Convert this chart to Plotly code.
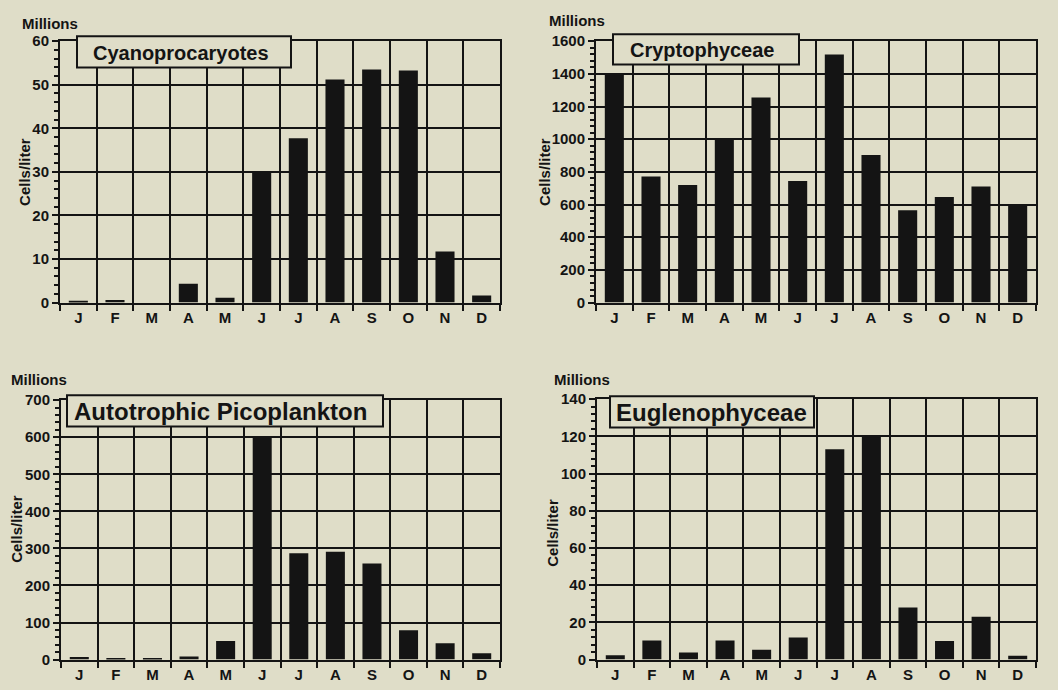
import plotly.graph_objects as go

# Monthly cell counts (millions of cells per liter)
months = ["Jan", "Feb", "Mar", "Apr", "May", "Jun", "Jul", "Aug", "Sep", "Oct", "Nov", "Dec"]
month_letters = ["J", "F", "M", "A", "M", "J", "J", "A", "S", "O", "N", "D"]

cyanoprocaryotes = [0.4, 0.6, 0, 4.3, 1.1, 30, 37.7, 51.2, 53.5, 53.3, 11.7, 1.6]
cryptophyceae = [1400, 772, 720, 995, 1256, 744, 1518, 903, 565, 647, 710, 601]
picoplankton = [7, 2, 4, 8, 50, 601, 287, 291, 259, 79, 44, 17]
euglenophyceae = [2.3, 10.2, 3.8, 10.2, 5.3, 11.9, 113, 120, 28, 10, 23, 2]

titles = ["Cyanoprocaryotes", "Cryptophyceae", "Autotrophic Picoplankton", "Euglenophyceae"]
y_max = [60, 1600, 700, 140]
y_major = [10, 200, 100, 20]
y_minor = [2, 40, 20, 4]

W, H = 1058, 690
BG = "#dfddc8"
INK = "#141414"
FONT = "Liberation Sans, Arial, Helvetica, sans-serif"

# panel rectangles in pixels: (left, right, top, bottom)
panels = [
    (60, 500, 33, 301),
    (596, 1036, 33, 301),
    (61, 500, 401, 667),
    (597, 1036, 400, 667),
]
# title box (left, right, top, bottom), text left, font size
boxes = [
    (77, 291, 28, 60, 91, 20),
    (613, 799, 26, 57, 628, 20),
    (67, 383, 396, 428, 72, 24),
    (610, 814, 397, 429, 614, 24),
]
millions_pos = [(20, 15), (547, 12), (9, 380), (552, 380)]
cells_pos = [(25, 167), (545, 167), (17, 533), (553, 537)]

series = [cyanoprocaryotes, cryptophyceae, picoplankton, euglenophyceae]


def px(x):
    return x / W


def py(y):
    return 1 - y / H


fig = go.Figure()
layout = dict(
    width=W, height=H,
    margin=dict(l=0, r=0, t=0, b=0),
    paper_bgcolor=BG, plot_bgcolor=BG,
    showlegend=False,
    font=dict(family=FONT, color=INK),
    shapes=[], annotations=[],
)

for i, vals in enumerate(series):
    n = "" if i == 0 else str(i + 1)
    fig.add_trace(go.Bar(
        x=months, y=vals, xaxis="x" + n, yaxis="y" + n,
        marker=dict(color=INK, line=dict(width=0)), width=0.52,
    ))
    l, r, t, b = panels[i]
    layout["xaxis" + n] = dict(
        domain=[px(l), px(r)], anchor="y" + n, type="category",
        categoryorder="array", categoryarray=months,
        tickmode="array", tickvals=months, ticktext=month_letters,
        tickson="boundaries", ticks="outside", ticklen=6, tickwidth=2, tickcolor=INK,
        showgrid=True, gridcolor=INK, gridwidth=2,
        showline=True, mirror=True, linecolor=INK, linewidth=2,
        tickfont=dict(family=FONT, size=15, color=INK, weight="bold"),
        range=[-0.5, 11.5], fixedrange=True,
    )
    layout["yaxis" + n] = dict(
        domain=[py(b), py(t)], anchor="x" + n,
        range=[0, y_max[i]], dtick=y_major[i], tick0=0,
        ticks="outside", ticklen=6, tickwidth=2, tickcolor=INK,
        minor=dict(dtick=y_minor[i], tick0=0, ticks="outside", ticklen=4,
                   tickwidth=1.5, tickcolor=INK, showgrid=False),
        showgrid=True, gridcolor=INK, gridwidth=2, zeroline=False,
        showline=True, mirror=True, linecolor=INK, linewidth=2,
        tickfont=dict(family=FONT, size=15, color=INK, weight="bold"),
        fixedrange=True,
    )

    bl, br, bt, bb, tx, fs = boxes[i]
    layout["shapes"].append(dict(
        type="rect", xref="paper", yref="paper", layer="above",
        x0=px(bl), x1=px(br), y0=py(bb), y1=py(bt),
        fillcolor=BG, line=dict(color=INK, width=2),
    ))
    layout["annotations"].append(dict(
        xref="paper", yref="paper", x=px(tx), y=py((bt + bb) / 2 + 1),
        xanchor="left", yanchor="middle", showarrow=False,
        text="<b>" + titles[i] + "</b>",
        font=dict(family=FONT, size=fs, color=INK),
    ))
    mx, my = millions_pos[i]
    layout["annotations"].append(dict(
        xref="paper", yref="paper", x=px(mx), y=py(my),
        xanchor="left", yanchor="middle", showarrow=False,
        text="<b>Millions</b>", font=dict(family=FONT, size=15, color=INK),
    ))
    cx, cy = cells_pos[i]
    layout["annotations"].append(dict(
        xref="paper", yref="paper", x=px(cx), y=py(cy),
        xanchor="center", yanchor="middle", showarrow=False, textangle=-90,
        text="<b>Cells/liter</b>", font=dict(family=FONT, size=15, color=INK),
    ))

fig.update_layout(**layout)
fig.write_html("out.html")
